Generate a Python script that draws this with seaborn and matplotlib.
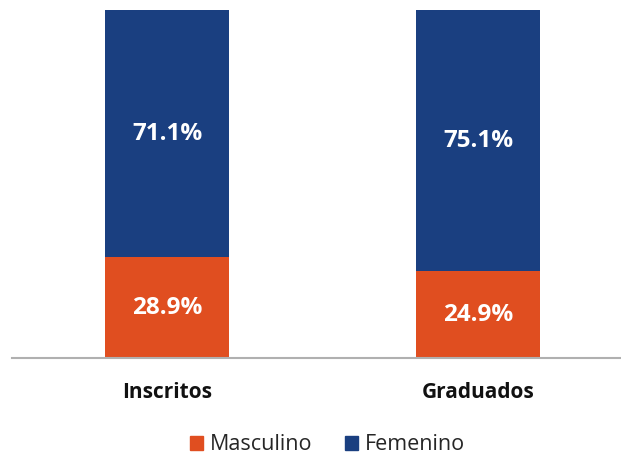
import seaborn as sns
import matplotlib.pyplot as plt
import pandas as pd
from matplotlib.patches import Patch

categorias = ["Inscritos", "Graduados"]
masculino = [28.9, 24.9]
femenino = [71.1, 75.1]

color_m = "#E04E20"
color_f = "#1A3F80"

sns.set_theme(style="white")
plt.rcParams['font.family'] = ['Open Sans', 'DejaVu Sans']

df = pd.DataFrame({"cat": categorias, "Masculino": masculino, "Femenino": femenino})

fig = plt.figure(figsize=(6.21, 4.55), dpi=100)
ax = fig.add_axes([0.019, 0.213, 0.981, 0.765])

sns.barplot(data=df, x="cat", y="Masculino", color=color_m, width=0.4,
            saturation=1, linewidth=0, ax=ax)
sns.barplot(data=df, x="cat", y="Femenino", color=color_f, width=0.4,
            saturation=1, linewidth=0, bottom=df["Masculino"], ax=ax)

for i, (m, f) in enumerate(zip(masculino, femenino)):
    ax.text(i, m / 2, f"{m}%", ha="center", va="center", color="white",
            fontsize=17.5, fontweight=700)
    ax.text(i, m + f / 2, f"{f}%", ha="center", va="center", color="white",
            fontsize=17.5, fontweight=700)

ax.set_ylim(0, 100)
ax.set_xlim(-0.5, 1.46)
ax.set_xlabel("")
ax.set_ylabel("")
ax.set_yticks([])
ax.tick_params(axis="x", length=0, pad=17, labelsize=15)
for lbl in ax.get_xticklabels():
    lbl.set_fontweight(700)
    lbl.set_color("#111111")
for s in ["top", "right", "left"]:
    ax.spines[s].set_visible(False)
ax.spines["bottom"].set_color("#b0b0b0")
ax.spines["bottom"].set_linewidth(1.5)

handles = [Patch(color=color_m, label="Masculino"), Patch(color=color_f, label="Femenino")]
fig.legend(handles=handles, loc="center", bbox_to_anchor=(0.527, 0.022), ncol=2,
           frameon=False, fontsize=15.5, handlelength=0.6, handleheight=0.6,
           handletextpad=0.33, columnspacing=1.5)

fig.savefig("out.png", dpi=100)
